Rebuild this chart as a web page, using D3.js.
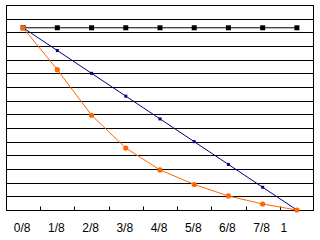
<!DOCTYPE html>
<html>
<head>
<meta charset="utf-8">
<script src="https://cdn.jsdelivr.net/npm/d3@7"></script>
<style>
  body { margin: 0; background: #fff; }
  svg { display: block; }
</style>
</head>
<body>
<div id="chart"></div>
<script>
// categories on the x axis
const categories = ['0/8', '1/8', '2/8', '3/8', '4/8', '5/8', '6/8', '7/8', '1'];

// series values
const flatValues = [1, 1, 1, 1, 1, 1, 1, 1, 1];
const linearValues = [1, 0.875, 0.75, 0.625, 0.5, 0.375, 0.25, 0.125, 0];
const curveValues = [1, 0.77, 0.52, 0.34, 0.22, 0.14, 0.077, 0.033, 0];

// value axis: 15 gridline steps up to 1.125
const yMax = 1.125;
const yTicks = d3.range(0, 16).map(i => i * yMax / 15);

function init() {
    const width = 320;
    const height = 240;
    const margin = { top: 5, right: 6, bottom: 30, left: 6 };

    const svg = d3.select('#chart')
        .append('svg')
        .attr('width', width)
        .attr('height', height);

    const x = d3.scaleBand()
        .domain(categories)
        .range([margin.left, width - margin.right])
        .padding(0);

    const y = d3.scaleLinear()
        .domain([0, yMax])
        .range([height - margin.bottom, margin.top]);

    const cx = d => x(d) + x.bandwidth() / 2;

    // horizontal gridlines
    svg.append('g')
        .selectAll('line')
        .data(yTicks)
        .enter().append('line')
        .attr('x1', margin.left)
        .attr('x2', width - margin.right)
        .attr('y1', d => Math.round(y(d)) + 0.5)
        .attr('y2', d => Math.round(y(d)) + 0.5)
        .attr('stroke', '#000')
        .attr('stroke-width', 1);

    // plot area border
    svg.append('rect')
        .attr('x', margin.left + 0.5)
        .attr('y', Math.round(y(yMax)) + 0.5)
        .attr('width', width - margin.left - margin.right - 1)
        .attr('height', Math.round(y(0)) - Math.round(y(yMax)))
        .attr('fill', 'none')
        .attr('stroke', '#000');

    // x tick marks pointing inward at band boundaries
    const bottom = Math.round(y(0)) + 0.5;
    svg.append('g')
        .selectAll('line')
        .data(categories.slice(1))
        .enter().append('line')
        .attr('x1', d => Math.round(x(d)) + 0.5)
        .attr('x2', d => Math.round(x(d)) + 0.5)
        .attr('y1', bottom)
        .attr('y2', bottom - 4)
        .attr('stroke', '#000');

    // x labels
    svg.append('g')
        .selectAll('text')
        .data(categories)
        .enter().append('text')
        .attr('x', d => cx(d))
        .attr('dx', (d, i) => i === categories.length - 1 ? -13 : -1)
        .attr('y', height - 8)
        .attr('text-anchor', 'middle')
        .attr('font-family', 'Liberation Sans, Arial, sans-serif')
        .attr('font-size', '12px')
        .attr('fill', '#000')
        .text(d => d);

    const line = d3.line()
        .x((d, i) => cx(categories[i]))
        .y(d => y(d));

    // flat series (black, squares)
    svg.append('path')
        .attr('d', line(flatValues))
        .attr('fill', 'none')
        .attr('stroke', '#000')
        .attr('stroke-width', 1);
    svg.append('g')
        .selectAll('rect')
        .data(flatValues)
        .enter().append('rect')
        .attr('x', (d, i) => cx(categories[i]) - 2.5)
        .attr('y', d => y(d) - 2.5)
        .attr('width', 5)
        .attr('height', 5)
        .attr('fill', '#000');

    // linear series (navy, small squares)
    svg.append('path')
        .attr('d', line(linearValues))
        .attr('fill', 'none')
        .attr('stroke', '#000080')
        .attr('stroke-width', 1);
    svg.append('g')
        .selectAll('rect')
        .data(linearValues)
        .enter().append('rect')
        .attr('x', (d, i) => cx(categories[i]) - 1.5)
        .attr('y', d => y(d) - 1.5)
        .attr('width', 3)
        .attr('height', 3)
        .attr('fill', '#000080');

    // curve series (orange, dots)
    svg.append('path')
        .attr('d', line(curveValues))
        .attr('fill', 'none')
        .attr('stroke', '#FF6600')
        .attr('stroke-width', 1);
    svg.append('g')
        .selectAll('circle')
        .data(curveValues)
        .enter().append('circle')
        .attr('cx', (d, i) => cx(categories[i]))
        .attr('cy', d => y(d))
        .attr('r', 2.6)
        .attr('fill', '#FF6600');
}

window.onload = init;
</script>
</body>
</html>
